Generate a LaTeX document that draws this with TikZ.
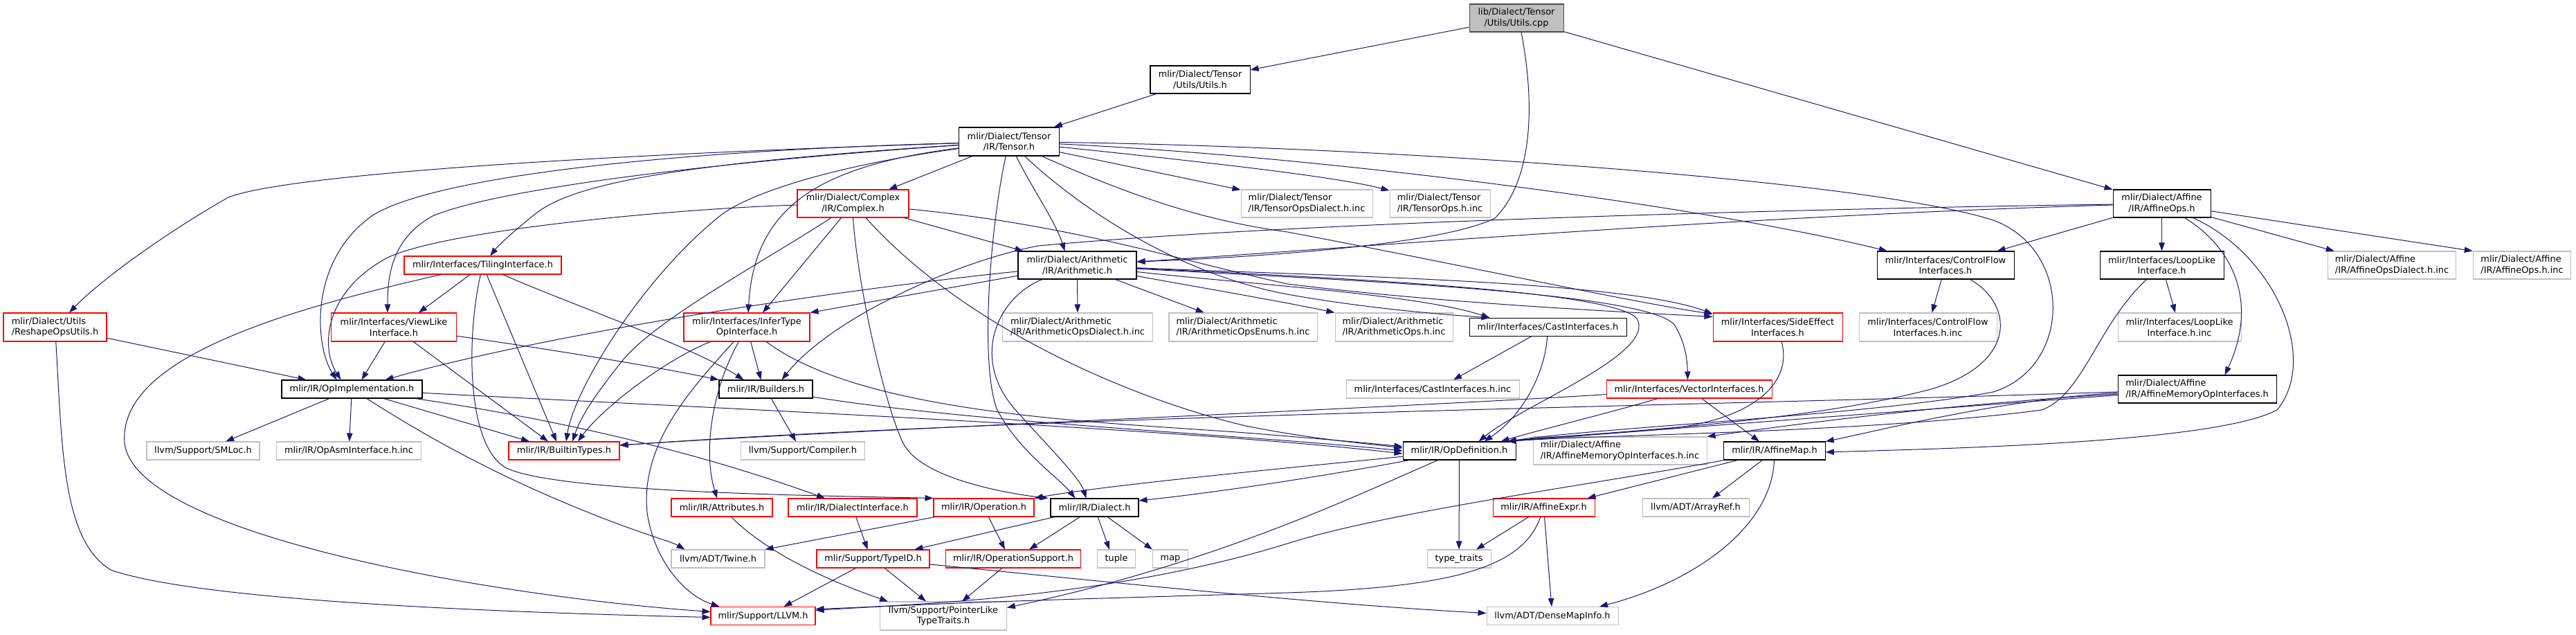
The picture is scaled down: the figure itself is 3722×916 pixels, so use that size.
\documentclass[tikz,border=0pt]{standalone}
\usepackage{fontspec}
\setmainfont{DejaVu Sans}
\usetikzlibrary{arrows.meta,calc}
\definecolor{edgec}{HTML}{191970}
\definecolor{grayb}{HTML}{BFBFBF}
\newcommand\dxfont{\fontsize{12.9}{15.5}\selectfont}
\newcommand\bx[7]{\node[#1, minimum width=#2pt, minimum height=#3pt, align=#4] (#5) at (#6) {#7};}
\tikzset{
  nbase/.style={rectangle, line width=1.05pt, fill=white, inner sep=0pt, font=\dxfont, text=black},
  nroot/.style={nbase, fill=grayb, draw=black!70},
  nblack/.style={nbase, draw=black},
  nred/.style={nbase, draw=red},
  ngray/.style={nbase, draw=grayb},
  dep/.style={draw=edgec, line width=1.0pt, -{Triangle[length=12pt,width=8.5pt]}},
}
\begin{document}
\begin{tikzpicture}[x=1pt,y=-1pt]
\fill[white] (0,0) rectangle (3722,916);
\useasboundingbox (0,0) rectangle (3722,916);
% nodes
\bx{nroot}{136}{40}{center}{Root}{2191,26}{lib/Dialect/Tensor\\/Utils/Utils.cpp}
\bx{nblack}{144}{40}{center}{UtilsH}{1734,115}{mlir/Dialect/Tensor\\/Utils/Utils.h}
\bx{nblack}{145}{41}{center}{Tensor}{1458,204.5}{mlir/Dialect/Tensor\\/IR/Tensor.h}
\bx{nblack}{141}{40}{center}{AffOps}{3123.5,294}{mlir/Dialect/Affine\\/IR/AffineOps.h}
\bx{nred}{161}{40}{center}{Complex}{1232.5,294}{mlir/Dialect/Complex\\/IR/Complex.h}
\bx{ngray}{190}{40}{left}{TOpsDia}{1888,294}{mlir/Dialect/Tensor\\/IR/TensorOpsDialect.h.inc}
\bx{ngray}{145}{40}{left}{TOps}{2080.5,294}{mlir/Dialect/Tensor\\/IR/TensorOps.h.inc}
\bx{nred}{227}{26}{center}{Tiling}{697.5,383}{mlir/Interfaces/TilingInterface.h}
\bx{nblack}{171}{40}{center}{Arith}{1556.5,383}{mlir/Dialect/Arithmetic\\/IR/Arithmetic.h}
\bx{nblack}{198}{40}{center}{CFI}{2811,383}{mlir/Interfaces/ControlFlow\\Interfaces.h}
\bx{nblack}{179}{40}{center}{LoopLike}{3123.5,383}{mlir/Interfaces/LoopLike\\Interface.h}
\bx{ngray}{185.5}{40}{left}{AffDia}{3456,383}{mlir/Dialect/Affine\\/IR/AffineOpsDialect.h.inc}
\bx{ngray}{141.5}{40}{left}{AffOpsInc}{3644,383}{mlir/Dialect/Affine\\/IR/AffineOps.h.inc}
\bx{nred}{149}{41}{left}{Reshape}{79.5,472.5}{mlir/Dialect/Utils\\/ReshapeOpsUtils.h}
\bx{nred}{180.5}{41}{center}{ViewLike}{569,472.5}{mlir/Interfaces/ViewLike\\Interface.h}
\bx{nred}{182}{41}{center}{InferType}{1079,472.5}{mlir/Interfaces/InferType\\OpInterface.h}
\bx{ngray}{217.5}{41}{left}{ArDia}{1557,472.5}{mlir/Dialect/Arithmetic\\/IR/ArithmeticOpsDialect.h.inc}
\bx{ngray}{214}{41}{left}{ArEnums}{1796,472.5}{mlir/Dialect/Arithmetic\\/IR/ArithmeticOpsEnums.h.inc}
\bx{ngray}{170}{41}{left}{ArOps}{2014,472.5}{mlir/Dialect/Arithmetic\\/IR/ArithmeticOps.h.inc}
\bx{nblack}{227}{26}{center}{Cast}{2236.5,472.5}{mlir/Interfaces/CastInterfaces.h}
\bx{nred}{187}{41}{center}{SideEff}{2568.5,472.5}{mlir/Interfaces/SideEffect\\Interfaces.h}
\bx{ngray}{199}{41}{center}{CFIinc}{2785.5,472.5}{mlir/Interfaces/ControlFlow\\Interfaces.h.inc}
\bx{ngray}{178}{41}{center}{LoopInc}{3149,472.5}{mlir/Interfaces/LoopLike\\Interface.h.inc}
\bx{nblack}{203}{26}{center}{OpImpl}{508.5,562}{mlir/IR/OpImplementation.h}
\bx{nblack}{135}{26}{center}{Builders}{1106.5,562}{mlir/IR/Builders.h}
\bx{ngray}{250}{26}{center}{CastInc}{2070,562}{mlir/Interfaces/CastInterfaces.h.inc}
\bx{nred}{239}{26}{center}{Vector}{2440.5,562}{mlir/Interfaces/VectorInterfaces.h}
\bx{nblack}{229}{40}{left}{AffMem}{3174.5,562}{mlir/Dialect/Affine\\/IR/AffineMemoryOpInterfaces.h}
\bx{ngray}{163}{26}{center}{SMLoc}{293.5,651}{llvm/Support/SMLoc.h}
\bx{ngray}{208.5}{26}{center}{OpAsm}{504,651}{mlir/IR/OpAsmInterface.h.inc}
\bx{nred}{160}{26}{center}{Builtin}{815,651}{mlir/IR/BuiltinTypes.h}
\bx{ngray}{179.5}{26}{center}{Compiler}{1160,651}{llvm/Support/Compiler.h}
\bx{nblack}{163}{26}{center}{OpDef}{2108.5,651}{mlir/IR/OpDefinition.h}
\bx{ngray}{251}{40}{left}{AffMemInc}{2340.5,651}{mlir/Dialect/Affine\\/IR/AffineMemoryOpInterfaces.h.inc}
\bx{nblack}{146.5}{26}{center}{AffMap}{2564,651}{mlir/IR/AffineMap.h}
\bx{nred}{146}{26}{center}{Attr}{1043,733}{mlir/IR/Attributes.h}
\bx{nred}{186}{26}{center}{DiaIf}{1232,733}{mlir/IR/DialectInterface.h}
\bx{nred}{145}{26}{center}{Operation}{1421.5,733}{mlir/IR/Operation.h}
\bx{nblack}{127}{26}{center}{Dialect}{1581.5,733}{mlir/IR/Dialect.h}
\bx{nred}{147}{26}{center}{AffExpr}{2230.5,733}{mlir/IR/AffineExpr.h}
\bx{ngray}{154}{26}{center}{ArrayRef}{2450,733}{llvm/ADT/ArrayRef.h}
\bx{ngray}{135}{26}{center}{Twine}{1037.5,807}{llvm/ADT/Twine.h}
\bx{nred}{163}{26}{center}{TypeID}{1261.5,807}{mlir/Support/TypeID.h}
\bx{nred}{195.5}{26}{center}{OpSupp}{1464,807}{mlir/IR/OperationSupport.h}
\bx{ngray}{54.5}{26}{center}{tuple}{1613,807}{tuple}
\bx{ngray}{51}{26}{center}{map}{1691,807}{map}
\bx{ngray}{92}{26}{center}{TypeTraits}{2108,807}{type\_traits}
\bx{nred}{151}{26}{center}{LLVMh}{1102.5,889.5}{mlir/Support/LLVM.h}
\bx{ngray}{182.5}{41}{center}{PtrLike}{1363,889.5}{llvm/Support/PointerLike\\TypeTraits.h}
\bx{ngray}{190}{26}{center}{DenseMap}{2243,889.5}{llvm/ADT/DenseMapInfo.h}
% root
\draw[dep] (Root) -- (UtilsH);
\draw[dep] ([xshift=7pt]Root.south) .. controls (2218,150) and (2215,260) .. (2160,315) .. controls (2080,355) and (1800,372) .. ([yshift=5pt]Arith.east);
\draw[dep] (Root) -- (AffOps);
\draw[dep] (UtilsH) -- (Tensor);
% Tensor
\draw[dep] (Tensor) -- (Complex);
\draw[dep] (Tensor) -- (TOpsDia);
\draw[dep] (Tensor) .. controls (1750,235) and (1930,255) .. (TOps);
\draw[dep] (Tensor) .. controls (1900,225) and (2450,295) .. (CFI);
\draw[dep] (Tensor) .. controls (2000,212) and (2700,260) .. (2880,318) .. controls (2995,360) and (2995,530) .. (2880,566) .. controls (2700,600) and (2300,618) .. ([xshift=-12pt]OpDef.north east);
\draw[dep] (Tensor) .. controls (900,222) and (420,250) .. (330,285) .. controls (250,330) and (150,400) .. (Reshape);
\draw[dep] (Tensor) .. controls (1000,235) and (830,262) .. (772,310) .. controls (745,332) and (722,352) .. (Tiling);
\draw[dep] (Tensor) .. controls (950,240) and (700,280) .. (625,312) .. controls (565,345) and (560,400) .. ([xshift=-9pt]ViewLike.north);
\draw[dep] (Tensor) .. controls (900,220) and (620,262) .. (540,310) .. controls (445,375) and (455,500) .. ([xshift=-22pt]OpImpl.north);
\draw[dep] (Tensor) .. controls (1200,240) and (1080,280) .. (1040,312) .. controls (930,400) and (830,560) .. ([xshift=3pt]Builtin.north);
\draw[dep] (Tensor) .. controls (1180,240) and (1090,300) .. ([xshift=2pt]InferType.north);
\draw[dep] (Tensor) .. controls (1490,270) and (1525,320) .. ([xshift=-18pt]Arith.north);
\draw[dep] (Tensor) .. controls (1432,320) and (1415,520) .. (1440,590) .. controls (1470,650) and (1530,690) .. ([xshift=-28pt]Dialect.north);
\draw[dep] (Tensor) .. controls (1650,290) and (1750,320) .. (1860,335) .. controls (2100,380) and (2350,435) .. ([yshift=-2pt]SideEff.north west);
\draw[dep] (Tensor) .. controls (1560,300) and (1700,395) .. (1860,425) .. controls (1990,448) and (2100,455) .. ([xshift=30pt]Cast.north west);
% Complex
\draw[dep] (Complex) -- ([xshift=8pt]Arith.north west);
\draw[dep] (Complex) -- ([xshift=23pt]InferType.north);
\draw[dep] (Complex.south) .. controls (1240,420) and (1280,590) .. (1305,640) .. controls (1330,690) and (1450,712) .. ([xshift=-3pt]Dialect.north west);
\draw[dep] (Complex) .. controls (1400,480) and (1650,580) .. (1800,615) .. controls (1900,635) and (1980,641) .. ([yshift=4pt]OpDef.west);
\draw[dep] (Complex) .. controls (1550,325) and (1700,375) .. (1860,410) .. controls (2100,440) and (2380,452) .. ([yshift=-6pt]SideEff.north west);
\draw[dep] (Complex) .. controls (1100,380) and (950,460) .. (900,520) .. controls (860,570) and (840,600) .. ([xshift=12pt]Builtin.north);
\draw[dep] (Complex) .. controls (1000,300) and (650,330) .. (560,372) .. controls (470,420) and (462,500) .. ([xshift=-16pt]OpImpl.north);
% Arith
\draw[dep] (Arith) -- (ArDia);
\draw[dep] (Arith) -- (ArEnums);
\draw[dep] (Arith) .. controls (1750,418) and (1850,435) .. (ArOps.north west);
\draw[dep] (Arith) .. controls (1800,410) and (2050,425) .. ([xshift=30pt]Cast.north west);
\draw[dep] (Arith) .. controls (1900,398) and (2350,405) .. ([yshift=-2pt]SideEff.north west);
\draw[dep] (Arith) .. controls (1900,403) and (2385,420) .. (2420,470) .. controls (2435,495) and (2438,520) .. ([xshift=-2pt]Vector.north);
\draw[dep] (Arith) .. controls (1900,400) and (2330,418) .. (2365,460) .. controls (2395,510) and (2200,585) .. ([xshift=28pt]OpDef.north);
\draw[dep] (Arith) .. controls (1440,430) and (1400,520) .. (1470,595) .. controls (1515,645) and (1560,690) .. ([xshift=-12pt]Dialect.north);
\draw[dep] (Arith) .. controls (1200,420) and (800,480) .. ([xshift=48pt]OpImpl.north);
\draw[dep] (Arith) -- (InferType.north east);
% AffOps
\draw[dep] (AffOps) .. controls (2700,300) and (1900,318) .. (1500,355) .. controls (1380,378) and (1200,460) .. ([xshift=23pt]Builders.north);
\draw[dep] (AffOps) .. controls (2500,312) and (1900,362) .. ([yshift=5pt]Arith.east);
\draw[dep] (AffOps) -- ([xshift=-25pt]CFI.north east);
\draw[dep] (AffOps) -- (LoopLike);
\draw[dep] (AffOps) -- ([xshift=10pt]AffDia.north west);
\draw[dep] (AffOps) -- (AffOpsInc.north west);
\draw[dep] (AffOps) .. controls (3230,360) and (3262,440) .. ([xshift=40pt]AffMem.north);
\draw[dep] (AffOps) .. controls (3290,370) and (3350,520) .. (3290,592) .. controls (3200,640) and (2800,648) .. ([yshift=-2pt]AffMap.east);
% CFI, LoopLike
\draw[dep] (CFI) -- (CFIinc);
\draw[dep] (CFI) .. controls (2910,440) and (2915,525) .. (2790,562) .. controls (2600,612) and (2300,625) .. ([xshift=-12pt]OpDef.north east);
\draw[dep] (LoopLike) -- (LoopInc);
\draw[dep] (LoopLike) .. controls (3030,470) and (3010,570) .. (2950,592) .. controls (2700,625) and (2300,628) .. ([xshift=-12pt]OpDef.north east);
% AffMem
\draw[dep] (AffMem) .. controls (2800,590) and (2400,620) .. ([xshift=-12pt]OpDef.north east);
\draw[dep] (AffMem) .. controls (2800,585) and (2600,612) .. (AffMemInc.north east);
\draw[dep] (AffMem) .. controls (2900,575) and (2700,625) .. (AffMap.north east);
\draw[dep] (AffMem) .. controls (2500,585) and (1500,600) .. ([yshift=8pt]Builtin.east);
% Vector
\draw[dep] (Vector) .. controls (2000,590) and (1200,622) .. ([yshift=8pt]Builtin.east);
\draw[dep] (Vector) .. controls (2330,595) and (2220,622) .. ([xshift=60pt]OpDef.north);
\draw[dep] (Vector) -- ([xshift=-22pt]AffMap.north);
% SideEff, Cast
\draw[dep] (SideEff) .. controls (2592,560) and (2520,610) .. (2400,620) .. controls (2300,628) and (2220,632) .. ([xshift=-12pt]OpDef.north east);
\draw[dep] (Cast) -- ([xshift=30pt]CastInc.north);
\draw[dep] (Cast) .. controls (2232,540) and (2200,600) .. ([xshift=36pt]OpDef.north);
% InferType
\draw[dep] (InferType) .. controls (960,520) and (870,590) .. ([xshift=20pt]Builtin.north);
\draw[dep] (InferType) .. controls (1000,560) and (925,640) .. (935,740) .. controls (945,810) and (990,860) .. ([xshift=13pt]LLVMh.north west);
\draw[dep] (InferType) .. controls (1030,560) and (1015,650) .. ([xshift=-7pt]Attr.north);
\draw[dep] (InferType) -- ([xshift=-7pt]Builders.north);
\draw[dep] (InferType) .. controls (1250,600) and (1600,610) .. (1800,625) .. controls (1900,633) and (1980,640) .. ([yshift=6pt]OpDef.west);
% Builders
\draw[dep] (Builders) -- ([xshift=-10pt]Compiler.north);
\draw[dep] (Builders) .. controls (1400,610) and (1800,628) .. (OpDef.west);
% OpImpl
\draw[dep] (OpImpl) -- (SMLoc);
\draw[dep] (OpImpl) -- (OpAsm);
\draw[dep] (OpImpl) .. controls (600,620) and (700,680) .. (850,740) .. controls (930,772) and (970,782) .. ([xshift=20pt]Twine.north west);
\draw[dep] (OpImpl) -- ([xshift=-50pt]Builtin.north);
\draw[dep] (OpImpl) .. controls (800,605) and (1000,650) .. ([xshift=-40pt]DiaIf.north);
\draw[dep] (OpImpl) .. controls (1000,588) and (1700,618) .. ([yshift=-4pt]OpDef.west);
% Reshape
\draw[dep] (Reshape) -- ([xshift=-66pt]OpImpl.north);
\draw[dep] (Reshape) .. controls (90,650) and (90,780) .. (160,823) .. controls (300,872) and (800,886) .. ([yshift=-2pt]LLVMh.west);
% Tiling
\draw[dep] (Tiling) -- ([xshift=36pt]ViewLike.north);
\draw[dep] (Tiling) .. controls (400,450) and (170,520) .. (180,640) .. controls (195,770) and (700,860) .. ([yshift=6pt]LLVMh.west);
\draw[dep] (Tiling) .. controls (675,480) and (672,640) .. (730,675) .. controls (800,712) and (1200,716) .. (Operation.north west);
\draw[dep] (Tiling) -- ([xshift=-11pt]Builtin.north);
\draw[dep] (Tiling) .. controls (800,430) and (1000,500) .. ([xshift=-32pt]Builders.north);
% ViewLike
\draw[dep] (ViewLike) -- ([xshift=14pt]OpImpl.north);
\draw[dep] (ViewLike) -- ([xshift=-23pt]Builtin.north);
\draw[dep] (ViewLike) .. controls (800,505) and (950,530) .. (Builders.north west);
% lower part
\draw[dep] (Dialect) -- ([xshift=60pt]TypeID.north);
\draw[dep] (Dialect) -- ([xshift=23pt]OpSupp.north);
\draw[dep] (Dialect) -- ([xshift=-10pt]tuple.north);
\draw[dep] (Dialect) -- (map.north west);
\draw[dep] (Operation) -- (Twine.north east);
\draw[dep] (Operation) -- ([xshift=-12pt]OpSupp.north);
\draw[dep] (DiaIf) -- ([xshift=-8pt]TypeID.north);
\draw[dep] (Attr) .. controls (1120,810) and (1230,850) .. ([xshift=-80pt]PtrLike.north);
\draw[dep] (TypeID) -- ([xshift=30pt]LLVMh.north);
\draw[dep] (TypeID) -- ([xshift=-25pt]PtrLike.north);
\draw[dep] (TypeID) .. controls (1600,840) and (1900,872) .. ([yshift=4pt]DenseMap.west);
\draw[dep] (OpSupp) -- ([xshift=27pt]PtrLike.north);
\draw[dep] (OpDef) -- (TypeTraits);
\draw[dep] (OpDef) .. controls (1900,672) and (1600,700) .. (Operation.north east);
\draw[dep] (OpDef) .. controls (1900,690) and (1750,712) .. ([yshift=10pt]Dialect.east);
\draw[dep] (OpDef) .. controls (1950,720) and (1750,815) .. ([yshift=12pt]PtrLike.east);
\draw[dep] (AffMap) -- ([xshift=-11pt]AffExpr.north east);
\draw[dep] (AffMap) -- ([xshift=24pt]ArrayRef.north);
\draw[dep] (AffMap) .. controls (2560,760) and (2450,840) .. ([xshift=68pt]DenseMap.north);
\draw[dep] (AffMap) .. controls (2300,700) and (2000,740) .. (1860,785) .. controls (1650,850) and (1400,872) .. ([yshift=10pt]LLVMh.east);
\draw[dep] (AffExpr) .. controls (2200,820) and (2100,848) .. (1860,856) .. controls (1600,864) and (1350,870) .. ([yshift=8pt]LLVMh.east);
\draw[dep] (AffExpr) -- ([xshift=25pt]TypeTraits.north);
\draw[dep] (AffExpr) -- (DenseMap);
\end{tikzpicture}
\end{document}
